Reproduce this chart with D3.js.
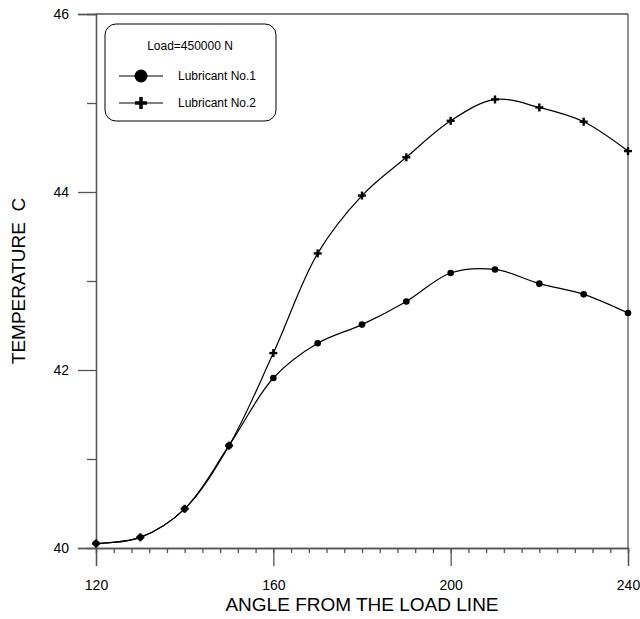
<!DOCTYPE html>
<html><head><meta charset="utf-8">
<script src="https://cdn.jsdelivr.net/npm/d3@7"></script>
<style>body{margin:0;background:#fff}text{font-family:"Liberation Sans",Arial,sans-serif;fill:#000}</style>
</head><body><svg id="c" width="640" height="619"></svg>
<script>
const angles = [120,130,140,150,160,170,180,190,200,210,220,230,240];
const lub1 = [40.05,40.12,40.44,41.15,41.91,42.30,42.51,42.77,43.09,43.13,42.97,42.85,42.64];
const lub2 = [40.05,40.12,40.44,41.15,42.19,43.31,43.96,44.39,44.80,45.04,44.95,44.79,44.46];
const xTicks = [120,160,200,240];
const yTicks = [40,42,44,46];
const legendTitle = "Load=450000 N";
const seriesNames = ["Lubricant No.1","Lubricant No.2"];

const svg = d3.select("#c");
const L=96,R=628,T=14,B=548;
const x = d3.scaleLinear().domain([120,240]).range([L,R]);
const y = d3.scaleLinear().domain([40,46]).range([B,T]);
const axCol="#555";

// frame top/right
svg.append("line").attr("x1",L).attr("x2",R).attr("y1",T).attr("y2",T).attr("stroke",axCol).attr("stroke-width",1.3);
svg.append("line").attr("x1",R).attr("x2",R).attr("y1",T).attr("y2",B).attr("stroke",axCol).attr("stroke-width",1.3);

// x axis
const gx = svg.append("g").attr("transform",`translate(0,${B})`);
gx.call(d3.axisBottom(x).tickValues(d3.range(120,241,4)).tickSize(5).tickFormat(""));
gx.append("g").call(d3.axisBottom(x).tickValues(xTicks).tickSize(18).tickPadding(14).tickFormat(d3.format("d")));
gx.selectAll("path.domain").attr("stroke",axCol).attr("stroke-width",1.3);
gx.selectAll("line").attr("stroke",axCol).attr("stroke-width",1.3);
gx.selectAll("text").style("font-size","14px").attr("font-family","Liberation Sans, Arial, sans-serif");

// y axis
const gy = svg.append("g").attr("transform",`translate(${L},0)`);
gy.call(d3.axisLeft(y).tickValues([41,43,45]).tickSize(9).tickFormat(""));
gy.append("g").call(d3.axisLeft(y).tickValues(yTicks).tickSize(18).tickPadding(9).tickFormat(d3.format("d")));
gy.selectAll("path.domain").attr("stroke",axCol).attr("stroke-width",1.3);
gy.selectAll("line").attr("stroke",axCol).attr("stroke-width",1.3);
gy.selectAll("text").style("font-size","14px").attr("font-family","Liberation Sans, Arial, sans-serif");

// titles
svg.append("text").attr("x",(L+R)/2).attr("y",611).attr("text-anchor","middle").style("font-size","19px").text("ANGLE FROM THE LOAD LINE");
svg.append("text").attr("transform",`translate(25,281) rotate(-90)`).attr("text-anchor","middle")
  .style("font-size","19px").style("white-space","pre").text("TEMPERATURE  C");

// lines
const line = d3.line().x((d,i)=>x(angles[i])).y(d=>y(d)).curve(d3.curveCatmullRom.alpha(0.5));
[lub1,lub2].forEach(s=>{
  svg.append("path").attr("d",line(s)).attr("fill","none").attr("stroke","#000").attr("stroke-width",1.2);
});
// markers
svg.append("g").selectAll("circle").data(lub1).join("circle")
  .attr("cx",(d,i)=>x(angles[i])).attr("cy",d=>y(d)).attr("r",3.3).attr("fill","#000");
const plus = (g,cx,cy,h,w)=>{
  g.append("line").attr("x1",cx-h).attr("x2",cx+h).attr("y1",cy).attr("y2",cy).attr("stroke","#000").attr("stroke-width",w);
  g.append("line").attr("x1",cx).attr("x2",cx).attr("y1",cy-h).attr("y2",cy+h).attr("stroke","#000").attr("stroke-width",w);
};
const gp = svg.append("g");
lub2.forEach((d,i)=>plus(gp,x(angles[i]),y(d),4,2.4));

// legend
const lg = svg.append("g");
lg.append("rect").attr("x",105).attr("y",24).attr("width",171).attr("height",97).attr("rx",11)
  .attr("fill","#fff").attr("stroke","#000").attr("stroke-width",1);
lg.append("text").attr("x",190).attr("y",50).attr("text-anchor","middle").style("font-size","12px").text(legendTitle);
[76,103].forEach((yy,i)=>{
  lg.append("line").attr("x1",119).attr("x2",163).attr("y1",yy).attr("y2",yy).attr("stroke","#000").attr("stroke-width",1);
  if(i===0) lg.append("circle").attr("cx",141).attr("cy",yy).attr("r",6.5).attr("fill","#000");
  else plus(lg,141,yy,6,3.5);
  lg.append("text").attr("x",178).attr("y",yy+4).style("font-size","12px").text(seriesNames[i]);
});
</script></body></html>
